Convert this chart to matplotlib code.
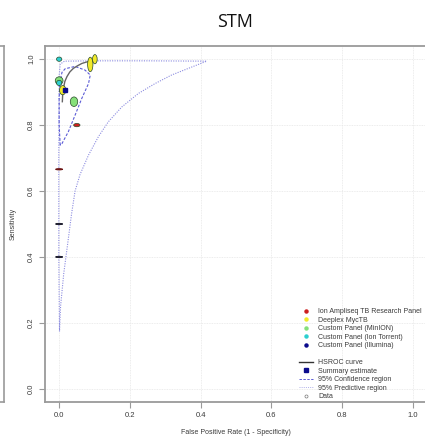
import matplotlib
matplotlib.use("Agg")
import matplotlib.pyplot as plt
from matplotlib.patches import Ellipse
from matplotlib.lines import Line2D

# ---------------- data ----------------
groups = ["Ion Ampliseq TB Research Panel", "Deeplex MycTB", "Custom Panel (MinION)",
          "Custom Panel (Ion Torrent)", "Custom Panel (Illumina)"]
group_colors = ["#cc1f1f", "#f2ea2a", "#86e07a", "#2ccfcf", "#0a0a8c"]

study_group = [0, 0, 1, 1, 1, 2, 2, 3, 3, 4, 4]
study_fpr = [0.050, 0.000, 0.010, 0.088, 0.101, 0.000, 0.042, 0.000, 0.000, 0.000, 0.000]
study_sens = [0.800, 0.666, 0.906, 0.984, 1.000, 0.935, 0.871, 1.000, 0.928, 0.500, 0.400]
study_w = [0.018, 0.020, 0.018, 0.015, 0.013, 0.022, 0.021, 0.015, 0.015, 0.020, 0.020]
study_h = [0.010, 0.004, 0.028, 0.044, 0.028, 0.023, 0.029, 0.013, 0.016, 0.004, 0.004]
dash_colors = {1: "#6a1010", 9: "#111122", 10: "#111122"}

summary_fpr = [0.017]
summary_sens = [0.908]

hsroc_fpr = [0.009, 0.010, 0.012, 0.016, 0.022, 0.030, 0.040, 0.052, 0.064, 0.076, 0.088]
hsroc_sens = [0.871, 0.893, 0.911, 0.932, 0.947, 0.961, 0.972, 0.980, 0.987, 0.991, 0.994]

conf_fpr = [0.003, 0.000, 0.000, 0.002, 0.008, 0.017, 0.045, 0.073, 0.088, 0.083,
            0.064, 0.045, 0.026, 0.008, 0.003]
conf_sens = [0.739, 0.800, 0.880, 0.930, 0.960, 0.971, 0.978, 0.967, 0.952, 0.926,
             0.881, 0.830, 0.780, 0.744, 0.739]

pred_fpr = [0.001, -0.001, -0.001, 0.000, 0.003, 0.015, 0.100, 0.250, 0.417,
            0.365, 0.318, 0.271, 0.224, 0.177, 0.139, 0.111, 0.083, 0.059, 0.045,
            0.035, 0.023, 0.013, 0.004, 0.001]
pred_sens = [0.174, 0.400, 0.700, 0.950, 0.985, 0.994, 0.995, 0.995, 0.994,
             0.972, 0.952, 0.926, 0.896, 0.855, 0.810, 0.765, 0.709, 0.650, 0.600,
             0.530, 0.431, 0.350, 0.250, 0.174]

ticks = [0.0, 0.2, 0.4, 0.6, 0.8, 1.0]
tick_labels = ["0.0", "0.2", "0.4", "0.6", "0.8", "1.0"]

# ---------------- figure ----------------
W, H = 425, 438
fig = plt.figure(figsize=(W / 100, H / 100), dpi=100)
fig.patch.set_facecolor("white")

FONT = ["Liberation Sans", "DejaVu Sans"]
box_col = "#9a9a9a"
txt_col = "#3a3a3a"

def fpos(l, t, r, b):
    return [l / W, 1 - b / H, (r - l) / W, (b - t) / H]

# partial left panel (cut off)
axl = fig.add_axes(fpos(-200, 46, 3.5, 402))
axl.set_xticks([]); axl.set_yticks([])
for s in axl.spines.values():
    s.set_color(box_col); s.set_linewidth(1.2)

ax = fig.add_axes(fpos(45, 46, 427, 402))
ax.set_xlim(-0.04, 1.04)
ax.set_ylim(-0.04, 1.04)
for s in ax.spines.values():
    s.set_color(box_col); s.set_linewidth(1.3)

ax.set_xticks(ticks)
ax.set_yticks(ticks)
ax.set_xticklabels(tick_labels, fontsize=5.5, color=txt_col, family=FONT)
ax.set_yticklabels(tick_labels, fontsize=5.5, color=txt_col, family=FONT,
                   rotation=90, va="center")
ax.tick_params(direction="out", length=4, width=0.8, color=box_col, pad=3.2)
ax.grid(True, color="#e6e6e6", linestyle=(0, (1, 1)), linewidth=0.6)
ax.set_axisbelow(True)

ax.set_xlabel("False Positive Rate (1 - Specificity)", fontsize=5, color=txt_col,
              family=FONT, labelpad=7.5)
ax.set_ylabel("Sensitivity", fontsize=5, color=txt_col, family=FONT, labelpad=8.5)

fig.text(235 / W, 1 - 22 / H, "STM", ha="center", va="center", fontsize=13,
         family=["Open Sans", "DejaVu Sans"], color="#111111")

# regions
ax.plot(pred_fpr, pred_sens, color="#8c8ce0", linestyle=(0, (1, 1.2)), linewidth=0.8, zorder=2)
ax.plot(conf_fpr, conf_sens, color="#5c5cd6", linestyle=(0, (2.5, 1.5)), linewidth=0.8, zorder=3)
ax.plot(hsroc_fpr, hsroc_sens, color="#666666", linewidth=1.0, zorder=4)

# study ellipses
for i in range(len(study_fpr)):
    g = study_group[i]
    if study_h[i] < 0.006:
        c = dash_colors.get(i, group_colors[g])
        e = Ellipse((study_fpr[i], study_sens[i]), study_w[i], study_h[i],
                    facecolor=c, edgecolor=c, linewidth=0.6, zorder=5)
    else:
        e = Ellipse((study_fpr[i], study_sens[i]), study_w[i], study_h[i],
                    facecolor=group_colors[g], edgecolor="#2a4a2a", linewidth=0.5, zorder=5)
    ax.add_patch(e)

ax.plot(summary_fpr, summary_sens, "s", color="#0a0a8c", markersize=2.5, zorder=6)

# legend
handles = []
labels = []
for g, name in enumerate(groups):
    handles.append(Line2D([], [], linestyle="none", marker="o", markersize=2.2,
                          color=group_colors[g]))
    labels.append(name)
handles.append(Line2D([], [], linestyle="none"))
labels.append("")
handles.append(Line2D([], [], color="#333333", linewidth=1.0))
labels.append("HSROC curve")
handles.append(Line2D([], [], linestyle="none", marker="s", markersize=2.2, color="#0a0a8c"))
labels.append("Summary estimate")
handles.append(Line2D([], [], color="#5c5cd6", linestyle=(0, (2.5, 1.5)), linewidth=0.7))
labels.append("95% Confidence region")
handles.append(Line2D([], [], color="#b0b0e8", linestyle=(0, (1, 1.2)), linewidth=0.7))
labels.append("95% Predictive region")
handles.append(Line2D([], [], linestyle="none", marker="o", markersize=2.2,
                      markerfacecolor="none", markeredgecolor="#777777", markeredgewidth=0.5))
labels.append("Data")

leg = ax.legend(handles, labels, loc="upper left", bbox_to_anchor=(299 / W, 1 - 308 / H),
                bbox_transform=fig.transFigure, frameon=False,
                prop={"family": FONT, "size": 5}, handlelength=2.0, handletextpad=0.8,
                labelspacing=0.22, borderpad=0, borderaxespad=0)
for t in leg.get_texts():
    t.set_color(txt_col)

fig.savefig("out.png", dpi=100)
